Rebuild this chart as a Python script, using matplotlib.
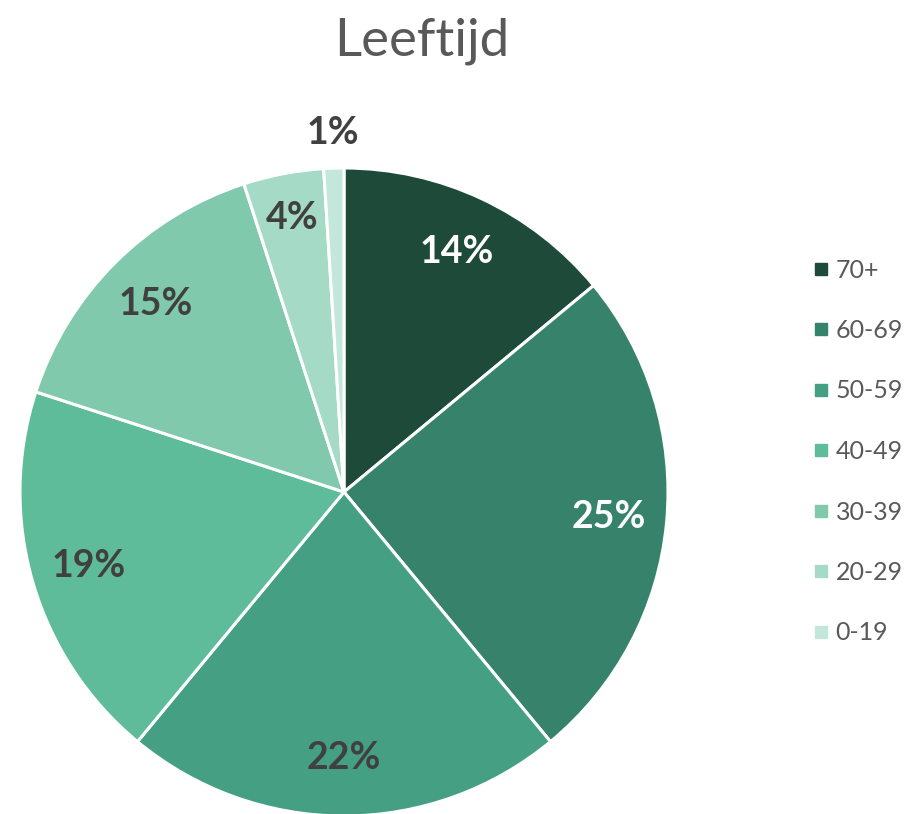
import matplotlib
matplotlib.use("Agg")
import matplotlib.pyplot as plt
from matplotlib.lines import Line2D
import numpy as np

categories = ["70+", "60-69", "50-59", "40-49", "30-39", "20-29", "0-19"]
values = [14, 25, 22, 19, 15, 4, 1]
colors = ["#1e4a3a", "#37826a", "#45a083", "#5ebc9a", "#80c9ad", "#a5dac6", "#c3e7da"]
label_colors = ["white", "white", "#404040", "#404040", "#404040", "#404040", "#404040"]

FONT = ["Lato", "DejaVu Sans"]
plt.rcParams["font.family"] = FONT

W, H = 918, 814
fig = plt.figure(figsize=(W / 100, H / 100), dpi=100)
cx, cy, r = 344, 492, 324
ax = fig.add_axes([(cx - r) / W, 1 - (cy + r) / H, 2 * r / W, 2 * r / H])
wedges, _ = ax.pie(values, colors=colors, startangle=90, counterclock=False,
                   radius=1.0, wedgeprops=dict(edgecolor="white", linewidth=2.2))
ax.set_xlim(-1, 1)
ax.set_ylim(-1, 1)
ax.set_aspect("equal")
ax.axis("off")

for w, v, lc in zip(wedges, values, label_colors):
    ang = np.deg2rad((w.theta1 + w.theta2) / 2)
    d = 0.82 if v >= 5 else (0.86 if v >= 3 else 1.11)
    if v < 3:
        lc = "#404040"
    ax.text(d * np.cos(ang), d * np.sin(ang), f"{v}%", ha="center", va="center",
            fontsize=27, fontweight="bold", color=lc, clip_on=False)

fig.text(422 / W, 1 - 41 / H, "Leeftijd", ha="center", va="center",
         fontsize=38, color="#595959")

handles = [Line2D([], [], marker="s", linestyle="none", markersize=9,
                  markerfacecolor=c, markeredgecolor=c) for c in colors]
fig.legend(handles, categories, loc="upper left",
           bbox_to_anchor=(802 / W, 1 - 246 / H), frameon=False,
           fontsize=18, labelcolor="#595959", labelspacing=1.5,
           handlelength=0.5, handletextpad=0.35, borderpad=0)

fig.savefig("out.png", dpi=100)
